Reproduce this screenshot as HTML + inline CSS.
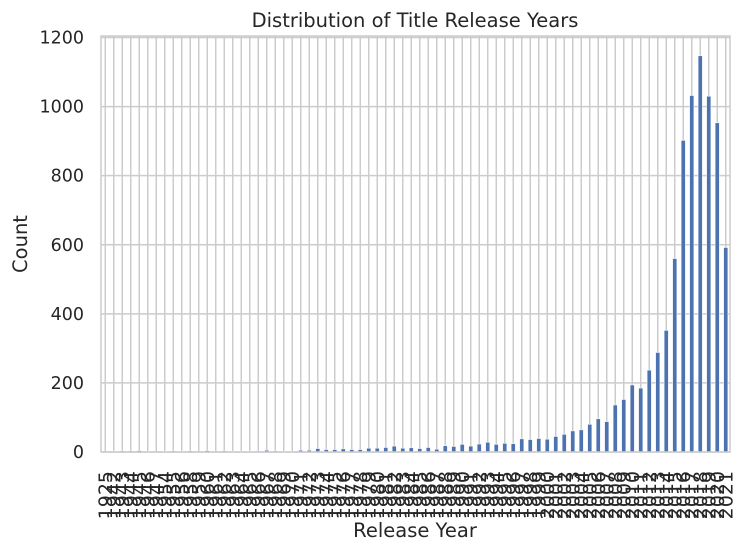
<!DOCTYPE html>
<html><head><meta charset="utf-8"><style>
body{margin:0;background:#fff;}
svg{display:block;font-family:"DejaVu Sans","Liberation Sans",sans-serif;}
</style></head><body>
<svg id="chart" width="746" height="552" viewBox="0 0 746 552" xmlns="http://www.w3.org/2000/svg">
<rect x="0" y="0" width="746" height="552" fill="#fff"/>
<g id="grid"></g><g id="bars"></g><g id="xt"></g><g id="yt"></g>
<rect x="101" y="36" width="629" height="416" fill="none" stroke="#cccccc" stroke-width="1.5"/>
<text x="415" y="27" text-anchor="middle" font-size="19.5" fill="#262626">Distribution of Title Release Years</text>
<text x="415" y="537" text-anchor="middle" font-size="19.5" fill="#262626">Release Year</text>
<text transform="translate(27,244) rotate(-90)" text-anchor="middle" font-size="19.5" fill="#262626">Count</text>
</svg>
<script>
const years=[1925,1942,1943,1944,1945,1946,1947,1954,1955,1956,1958,1959,1960,1961,1962,1963,1964,1965,1966,1967,1968,1969,1970,1971,1972,1973,1974,1975,1976,1977,1978,1979,1980,1981,1982,1983,1984,1985,1986,1987,1988,1989,1990,1991,1992,1993,1994,1995,1996,1997,1998,1999,2000,2001,2002,2003,2004,2005,2006,2007,2008,2009,2010,2011,2012,2013,2014,2015,2016,2017,2018,2019,2020,2021];
const counts=[1,2,3,3,4,2,1,2,3,2,3,1,4,1,3,2,2,2,1,5,3,2,2,5,5,10,7,7,9,7,7,11,11,13,17,11,12,10,13,8,18,16,22,17,23,28,22,25,24,38,36,39,37,45,51,61,64,80,96,88,136,152,194,185,237,288,352,560,902,1032,1147,1030,953,592];
const yTicks=[0,200,400,600,800,1000,1200];
const NS="http://www.w3.org/2000/svg";
const L=101,R=730,T=36,B=452,yMax=1204.35;
const step=(R-L)/years.length;
const xs=i=>L+step*(i+0.5);
const ys=v=>B-(v/yMax)*(B-T);
function mk(t,a,p){const e=document.createElementNS(NS,t);for(const k in a)e.setAttribute(k,a[k]);p.appendChild(e);return e;}
const grid=document.getElementById('grid'),bars=document.getElementById('bars'),xt=document.getElementById('xt'),yt=document.getElementById('yt');
yTicks.forEach(v=>{
  const l=mk('line',{x1:L,x2:R,y1:ys(v),y2:ys(v),stroke:'#cccccc','stroke-width':1.5},grid);
  
  
  const t=mk('text',{x:84,y:ys(v)+6,'text-anchor':'end','font-size':17.5,fill:'#262626'},yt);
  t.textContent=v;
  
  
});
years.forEach((y,i)=>{
  const x=xs(i);
  const g=mk('line',{x1:x,x2:x,y1:T,y2:B,stroke:'#cccccc','stroke-width':1.5},grid);
  
  
  const bw=step*0.5;
  const b=mk('rect',{x:x-bw/2,y:ys(counts[i]),width:bw,height:B-ys(counts[i]),fill:'#4c72b0',stroke:'#fff','stroke-width':0.5},bars);
  
  
  const t=mk('text',{transform:`translate(${x+6.5},471) rotate(-90)`,'text-anchor':'end','font-size':19,fill:'#262626'},xt);
  t.textContent=y;
  
  
});
</script>
</body></html>
